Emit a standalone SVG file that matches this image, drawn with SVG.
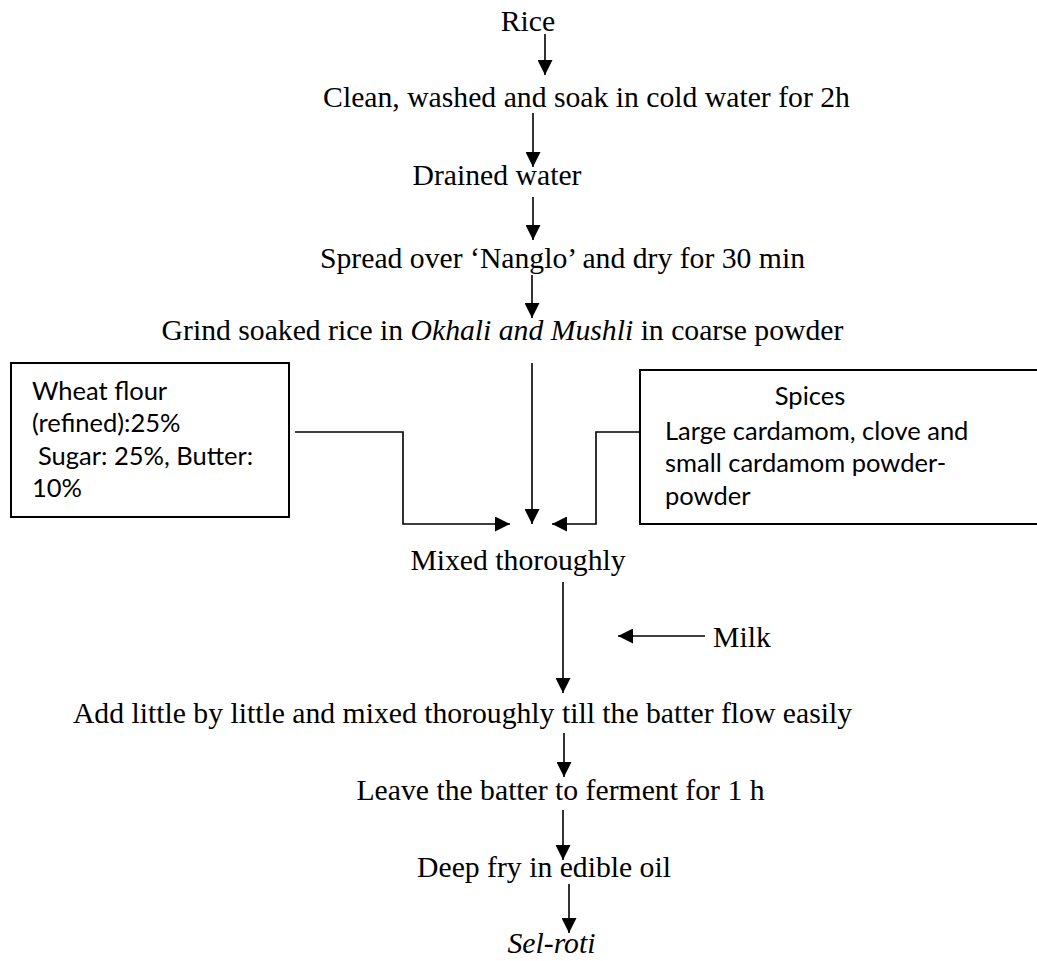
<svg xmlns="http://www.w3.org/2000/svg" width="1037" height="961" viewBox="0 0 1037 961">
<style>
.t{font-family:"Liberation Serif","Times New Roman",serif;font-size:29.7px;fill:#000;text-anchor:middle}
.s{text-anchor:start}
.b{font-family:Lato,"Open Sans",sans-serif;font-size:25.5px;fill:#000}
.c{fill:none;stroke:#000;stroke-width:1.6}
.box{fill:#fff;stroke:#000;stroke-width:2}
</style>
<defs>
<marker id="ah" viewBox="0 0 15 15" refX="15" refY="7.5" markerWidth="15" markerHeight="15" markerUnits="userSpaceOnUse" orient="auto">
<path d="M0,0 L15,7.5 L0,15 z" fill="#000"/>
</marker>
</defs>
<rect width="1037" height="961" fill="#fff"/>
<g id="n-rice"><text class="t" x="528" y="31">Rice</text></g>
<g id="n-clean"><text class="t" x="586.5" y="107">Clean, washed and soak in cold water for 2h</text></g>
<g id="n-drained"><text class="t" x="497" y="185">Drained water</text></g>
<g id="n-spread"><text class="t" x="562.5" y="268">Spread over ‘Nanglo’ and dry for 30 min</text></g>
<g id="n-grind"><text class="t" x="502.5" y="340">Grind soaked rice in <tspan font-style="italic">Okhali and Mushli</tspan> in coarse powder</text></g>
<g id="n-wheat">
<rect class="box" x="11" y="363" width="278" height="154"/>
<text class="b" x="32" y="400">Wheat flour</text>
<text class="b" x="32" y="432">(refined):25%</text>
<text class="b" x="38" y="465">Sugar: 25%, Butter:</text>
<text class="b" x="32" y="497">10%</text>
</g>
<g id="n-spices">
<rect class="box" x="640" y="370" width="410" height="154"/>
<text class="b" x="810" y="405" text-anchor="middle">Spices</text>
<text class="b" x="665" y="440">Large cardamom, clove and</text>
<text class="b" x="665" y="472">small cardamom powder-</text>
<text class="b" x="665" y="505">powder</text>
</g>
<g id="n-mixed"><text class="t" x="518" y="570">Mixed thoroughly</text></g>
<g id="n-milk"><text class="t s" x="713" y="647">Milk</text></g>
<g id="n-add"><text class="t" x="462.5" y="723">Add little by little and mixed thoroughly till the batter flow easily</text></g>
<g id="n-leave"><text class="t" x="560.5" y="800">Leave the batter to ferment for 1 h</text></g>
<g id="n-fry"><text class="t" x="544" y="877">Deep fry in edible oil</text></g>
<g id="n-selroti"><text class="t" x="551.5" y="953" font-style="italic">Sel-roti</text></g>
<g id="connectors">
<path class="c" d="M545,34 V75" marker-end="url(#ah)"/>
<path class="c" d="M533,113 V167" marker-end="url(#ah)"/>
<path class="c" d="M533,197 V240" marker-end="url(#ah)"/>
<path class="c" d="M532,275 V318" marker-end="url(#ah)"/>
<path class="c" d="M532,363 V524" marker-end="url(#ah)"/>
<path class="c" d="M295,432 H403 V524 H510" marker-end="url(#ah)"/>
<path class="c" d="M640,432 H596 V524 H552" marker-end="url(#ah)"/>
<path class="c" d="M563,582 V693" marker-end="url(#ah)"/>
<path class="c" d="M705,636 H618" marker-end="url(#ah)"/>
<path class="c" d="M564,733 V777" marker-end="url(#ah)"/>
<path class="c" d="M563,810 V860" marker-end="url(#ah)"/>
<path class="c" d="M569,884 V933" marker-end="url(#ah)"/>
</g>
</svg>
